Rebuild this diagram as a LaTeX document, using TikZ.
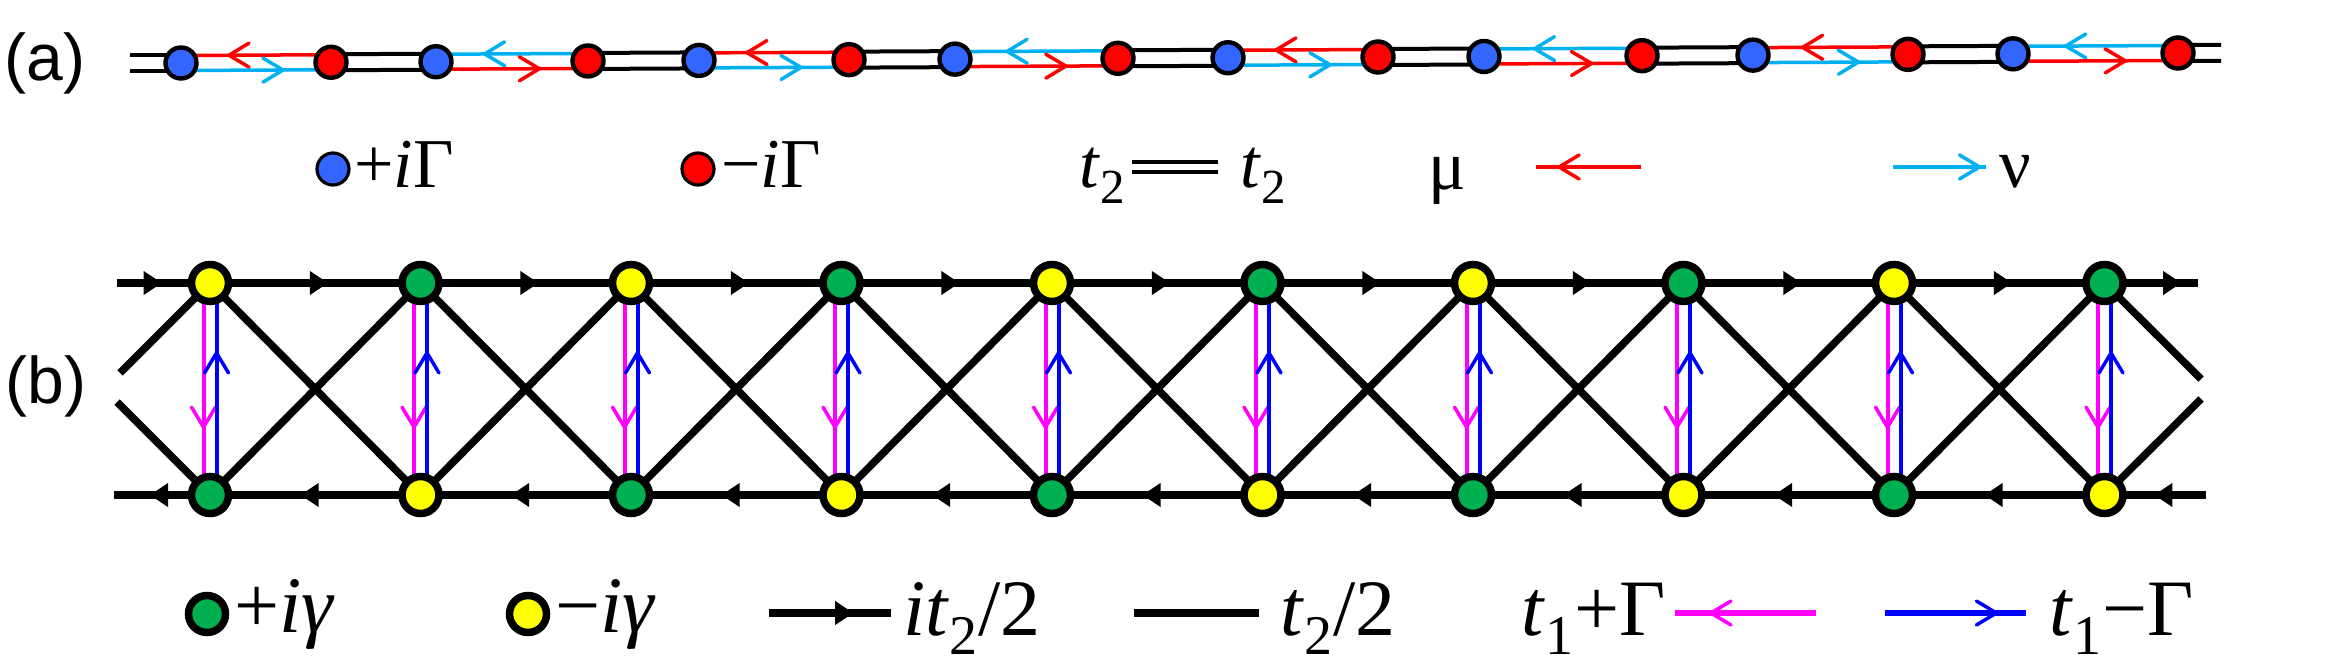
\documentclass[tikz,border=0pt]{standalone}
\usepackage{fontspec}
\setmainfont{Liberation Serif}
\newfontfamily\labfont{Liberation Sans}
\usetikzlibrary{calc,decorations.markings}
\pgfdeclarelayer{bg}
\pgfdeclarelayer{paper}
\pgfsetlayers{paper,bg,main}
\definecolor{nblue}{RGB}{51,102,255}
\definecolor{nred}{RGB}{255,0,0}
\definecolor{lcyan}{RGB}{0,176,240}
\definecolor{ngreen}{RGB}{0,176,80}
\definecolor{nyellow}{RGB}{255,255,0}
\definecolor{lmag}{RGB}{255,0,255}
\definecolor{lblue}{RGB}{0,0,255}
\begin{document}
\begin{tikzpicture}[x=0.5pt,y=-0.5pt,
  anode/.style={circle,draw=black,line width=2.2pt,minimum size=15.5pt,inner sep=0pt},
  bnode/.style={circle,draw=black,line width=3.75pt,minimum size=18.5pt,inner sep=0pt},
  lnode/.style={circle,draw=black,line width=1.6pt,minimum size=16pt,inner sep=0pt},
  plab/.style={inner sep=0pt,font=\labfont\fontsize{33pt}{38pt}\selectfont},
  leg/.style={anchor=base west,inner sep=0pt,font=\fontsize{35pt}{40pt}\selectfont},
  legb/.style={anchor=base west,inner sep=0pt,font=\fontsize{40pt}{46pt}\selectfont},
  chev/.style={postaction={decorate},decoration={markings,mark=at position #1 with {\draw[line width=1.75pt,line cap=round] (-20,12) -- (0,0) -- (-20,-12);}}},
  tri/.style={postaction={decorate},decoration={markings,mark=at position #1 with {\fill (0,0) -- (-18,12) -- (-18,-12) -- cycle;}}},
  clink/.style={line width=1.75pt},
  dlink/.style={black,line width=2pt},
  blk/.style={black,line width=3.75pt},
  vlink/.style={line width=2pt},
]
\begin{pgfonlayer}{paper}
\path[use as bounding box,fill=white] (0,0) rectangle (2339,668);
\end{pgfonlayer}

% ---------- (a) ----------
\node[plab] (la) at (45,63) {(a)};
\foreach \i/\x in {0/181,2/436,4/699,6/955,8/1228,10/1484,12/1753,14/2013}
  \node[anode,fill=nblue] (a\i) at (\x,{63-0.005*(\x-181)}) {};
\foreach \i/\x in {1/331,3/588,5/849,7/1118,9/1378,11/1642,13/1908,15/2178}
  \node[anode,fill=nred] (a\i) at (\x,{63-0.005*(\x-181)}) {};
\coordinate (aL) at (130,63);
\coordinate (aR) at (2221,52.8);
\begin{pgfonlayer}{bg}
\foreach \k in {0,...,7}{
  \pgfmathtruncatemacro\b{2*\k}
  \pgfmathtruncatemacro\r{2*\k+1}
  \ifodd\k\relax \def\ctop{lcyan}\def\cbot{nred}\else \def\ctop{nred}\def\cbot{lcyan}\fi
  \draw[\ctop,clink,chev=0.68] ($(a\r)+(0,-7.5)$) -- ($(a\b)+(0,-7.5)$);
  \draw[\cbot,clink,chev=0.68] ($(a\b)+(0,7.5)$) -- ($(a\r)+(0,7.5)$);
}
\foreach \k in {0,...,6}{
  \pgfmathtruncatemacro\r{2*\k+1}
  \pgfmathtruncatemacro\b{2*\k+2}
  \draw[dlink] ($(a\r)+(0,-8)$) -- ($(a\b)+(0,-8)$);
  \draw[dlink] ($(a\r)+(0,8)$) -- ($(a\b)+(0,8)$);
}
\draw[dlink] ($(aL)+(0,-8)$) -- ($(a0)+(0,-8)$);
\draw[dlink] ($(aL)+(0,8)$) -- ($(a0)+(0,8)$);
\draw[dlink] ($(a15)+(0,-8)$) -- ($(aR)+(0,-8)$);
\draw[dlink] ($(a15)+(0,8)$) -- ($(aR)+(0,8)$);
\end{pgfonlayer}

% legend (a)
\node[lnode,fill=nblue] (ka1) at (333,169) {};
\node[leg] (ta1) at (354,188) {+\textit{i}Γ};
\node[lnode,fill=nred] (ka2) at (698,169) {};
\node[leg] (ta2) at (721,188) {−\textit{i}Γ};
\node[leg] (ta3) at (1079,188) {\textit{t}\textsubscript{2}};
\coordinate (da1) at (1132,167);
\coordinate (da2) at (1218,167);
\draw[dlink] ($(da1)+(0,-5)$) -- ($(da2)+(0,-5)$);
\draw[dlink] ($(da1)+(0,5)$) -- ($(da2)+(0,5)$);
\node[leg] (ta4) at (1240,188) {\textit{t}\textsubscript{2}};
\node[leg] (ta5) at (1428,190) {μ};
\coordinate (ma1) at (1641,167);
\coordinate (ma2) at (1536,167);
\draw[nred,clink,chev=0.78] (ma1) -- (ma2);
\coordinate (na1) at (1893,167);
\coordinate (na2) at (1986,167);
\draw[lcyan,clink,chev=0.93] (na1) -- (na2);
\node[leg] (ta6) at (1999,188) {ν};

% ---------- (b) ----------
\node[plab] (lb) at (46,386) {(b)};
\foreach \i in {0,...,9}{
  \pgfmathsetmacro\x{210+210.5*\i}
  \ifodd\i\relax \def\ct{ngreen}\def\cb{nyellow}\else \def\ct{nyellow}\def\cb{ngreen}\fi
  \node[bnode,fill=\ct] (t\i) at (\x,283) {};
  \node[bnode,fill=\cb] (b\i) at (\x,495) {};
}
\coordinate (tL) at (117,283);
\coordinate (tR) at (2198,283);
\coordinate (bL) at (114,495);
\coordinate (bR) at (2206,495);
\coordinate (dTL) at (120,373);
\coordinate (dBL) at (117,402);
\coordinate (dTR) at (2201,379);
\coordinate (dBR) at (2201,399);
\begin{pgfonlayer}{bg}
\foreach \i [evaluate=\i as \j using int(\i+1)] in {0,...,8}{
  \draw[blk,tri=0.56] (t\i.center) -- (t\j.center);
  \draw[blk,tri=0.57] (b\j.center) -- (b\i.center);
  \draw[blk] (t\i.center) -- (b\j.center);
  \draw[blk] (b\i.center) -- (t\j.center);
}
\draw[blk,tri=0.48] (tL) -- (t0.center);
\draw[blk,tri=0.82] (t9.center) -- (tR);
\draw[blk,tri=0.625] (b0.center) -- (bL);
\draw[blk,tri=0.51] (bR) -- (b9.center);
\draw[blk] (t0.center) -- (dTL);
\draw[blk] (b0.center) -- (dBL);
\draw[blk] (t9.center) -- (dTR);
\draw[blk] (b9.center) -- (dBR);
\foreach \i in {0,...,9}{
  \draw[lmag,vlink,chev=0.68] ($(t\i)+(-6.5,0)$) -- ($(b\i)+(-6.5,0)$);
  \draw[lblue,vlink,chev=0.67] ($(b\i)+(6.5,0)$) -- ($(t\i)+(6.5,0)$);
}
\end{pgfonlayer}

% legend (b)
\node[bnode,fill=ngreen] (kb1) at (207,614) {};
\node[legb] (tb1) at (234,632) {+\textit{iγ}};
\node[bnode,fill=nyellow] (kb2) at (528,614) {};
\node[legb] (tb2) at (555,632) {−\textit{iγ}};
\coordinate (ab1) at (769,613);
\coordinate (ab2) at (891,613);
\draw[blk,tri=0.69] (ab1) -- (ab2);
\node[legb] (tb3) at (903,635) {\textit{it}\textsubscript{2}/2};
\coordinate (lb1) at (1134,613);
\coordinate (lb2) at (1259,613);
\draw[blk] (lb1) -- (lb2);
\node[legb] (tb4) at (1280,635) {\textit{t}\textsubscript{2}/2};
\node[legb] (tb5) at (1521,635) {\textit{t}\textsubscript{1}+Γ};
\coordinate (mb1) at (1816,613);
\coordinate (mb2) at (1675,613);
\draw[lmag,line width=3pt,chev=0.745] (mb1) -- (mb2);
\coordinate (bb1) at (1885,613);
\coordinate (bb2) at (2026,613);
\draw[lblue,line width=3pt,chev=0.79] (bb1) -- (bb2);
\node[legb] (tb6) at (2049,635) {\textit{t}\textsubscript{1}−Γ};
\end{tikzpicture}
\end{document}
